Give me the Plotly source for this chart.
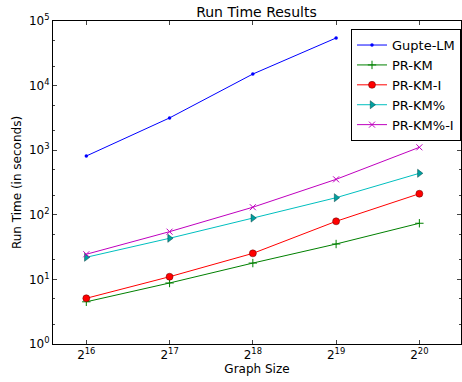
import plotly.graph_objects as go

# x positions as exponents of 2 (graph size = 2^k)
size_exp = [16, 17, 18, 19, 20]
x_tick_labels = ["2<sup>16</sup>", "2<sup>17</sup>", "2<sup>18</sup>", "2<sup>19</sup>", "2<sup>20</sup>"]

gupte_exp = [16, 17, 18, 19]
gupte_lm = [813, 3160, 15100, 54600]
pr_km = [4.5, 8.8, 17.9, 35.3, 74]
pr_km_i = [5.1, 11.0, 25.3, 79.3, 212]
pr_km_pct = [22, 43.3, 89, 184, 439]
pr_km_pct_i = [24.5, 54.8, 131, 354, 1109]

y_tick_vals = [1, 10, 100, 1000, 10000, 100000]
y_tick_labels = ["10<sup>0</sup>", "10<sup>1</sup>", "10<sup>2</sup>", "10<sup>3</sup>", "10<sup>4</sup>", "10<sup>5</sup>"]

fig = go.Figure()
fig.add_trace(go.Scatter(x=gupte_exp, y=gupte_lm, name="Gupte-LM", mode="lines+markers",
                         line=dict(color="#0000ff", width=1),
                         marker=dict(symbol="circle", size=3.5, color="#0000ff")))
fig.add_trace(go.Scatter(x=size_exp, y=pr_km, name="PR-KM", mode="lines+markers",
                         line=dict(color="#008000", width=1),
                         marker=dict(symbol="cross-thin", size=6, line=dict(color="#008000", width=1))))
fig.add_trace(go.Scatter(x=size_exp, y=pr_km_i, name="PR-KM-I", mode="lines+markers",
                         line=dict(color="#ff0000", width=1),
                         marker=dict(symbol="circle", size=7, color="#ff0000", line=dict(color="#600000", width=0.5))))
fig.add_trace(go.Scatter(x=size_exp, y=pr_km_pct, name="PR-KM%", mode="lines+markers",
                         line=dict(color="#00bfbf", width=1),
                         marker=dict(symbol="triangle-right", size=7, color="#00a0a0", line=dict(color="#004040", width=0.5))))
fig.add_trace(go.Scatter(x=size_exp, y=pr_km_pct_i, name="PR-KM%-I", mode="lines+markers",
                         line=dict(color="#bf00bf", width=1),
                         marker=dict(symbol="x-thin", size=6, line=dict(color="#bf00bf", width=1))))

fig.update_layout(
    width=462, height=382,
    margin=dict(l=53, r=1, t=21, b=38, autoexpand=False),
    paper_bgcolor="white", plot_bgcolor="white",
    font=dict(family="DejaVu Sans", size=12, color="black"),
    title=dict(text="Run Time Results", x=0.555, xanchor="center", y=0.968, yanchor="middle",
               font=dict(size=14)),
    legend=dict(x=1.0, y=0.975, xanchor="right", yanchor="top",
                bgcolor="white", bordercolor="black", borderwidth=1,
                font=dict(size=13), itemwidth=30, tracegroupgap=0),
    showlegend=True,
)
fig.update_xaxes(range=[15.6, 20.5], tickvals=size_exp, ticktext=x_tick_labels,
                 ticks="inside", ticklen=4, mirror="ticks", showline=True, linecolor="black",
                 linewidth=1, showgrid=False, zeroline=False,
                 title=dict(text="Graph Size", font=dict(size=12), standoff=2),
                 tickfont=dict(size=12))
fig.update_yaxes(type="log", range=[0, 5], tickvals=y_tick_vals, ticktext=y_tick_labels,
                 ticks="inside", ticklen=4, mirror="ticks", showline=True, linecolor="black",
                 linewidth=1, showgrid=False, zeroline=False,
                 minor=dict(ticks="inside", ticklen=2, showgrid=False),
                 title=dict(text="Run Time (in seconds)", font=dict(size=12), standoff=4),
                 tickfont=dict(size=12))

fig.write_html("out.html")
